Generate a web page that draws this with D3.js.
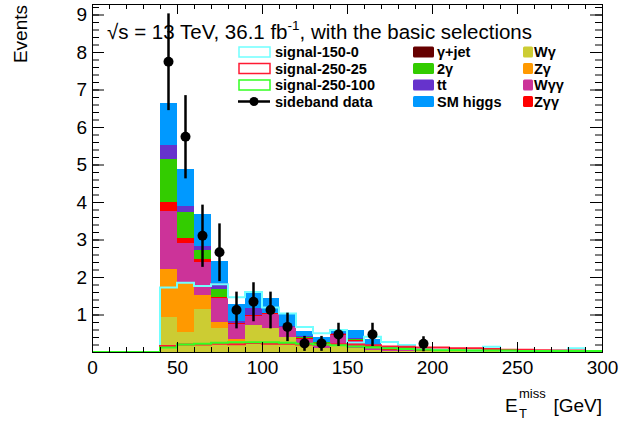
<!DOCTYPE html>
<html><head><meta charset="utf-8">
<script src="https://cdn.jsdelivr.net/npm/d3@7"></script>
<style>
body{margin:0;background:#fff}
svg{display:block}
text{font-family:'Liberation Sans',Arial,Helvetica,sans-serif}
</style></head>
<body><svg id="c" width="622" height="421"></svg>
<script>
// ---------- data ----------
const binLow = [40,50,60,70,80,90,100,110,120,130,140,150,160,170,180,190,200,210,220,230,240,250,260,270,280,290];
const gamJet  = [0,0,0,0,0,0,0,0,0,0,0,0,0,0,0,0,0,0,0,0,0,0,0,0,0,0];
const wGam    = [0.94,0.54,1.14,0.63,0.30,0.72,0.63,0.41,0.18,0.12,0.20,0.10,0.05,0.03,0.03,0.02,0.03,0.02,0.03,0.02,0.03,0.02,0.02,0.02,0.02,0.02];
const zGam    = [1.28,1.31,0.38,0.18,0.05,0,0,0,0.02,0,0,0,0,0,0,0,0,0,0,0,0,0,0,0,0,0];
const wGamGam = [1.55,1.06,0.89,0.64,0.40,0.25,0.38,0.25,0.15,0.10,0.25,0.20,0.05,0.03,0.06,0.02,0.02,0.02,0.01,0.01,0.01,0.01,0.01,0.01,0.01,0.01];
const zGamGam = [0.24,0.14,0.07,0.03,0.02,0.02,0.02,0.02,0.02,0.02,0.02,0.02,0.02,0.02,0.03,0.02,0.01,0.01,0.01,0.01,0.01,0.01,0.01,0.01,0.01,0.01];
const diGam   = [1.14,0.69,0.24,0.20,0,0,0,0,0.03,0.04,0.02,0.03,0.05,0.02,0.02,0.01,0,0,0,0,0,0,0,0,0,0];
const ttbar   = [0.37,0.16,0.11,0.17,0.05,0.18,0.02,0.02,0.02,0,0.02,0.02,0.03,0,0,0,0,0,0,0,0,0,0,0,0,0];
const smHiggs = [1.13,0.99,0.85,0.58,0.46,0.46,0.38,0.33,0.13,0.13,0.08,0.22,0.15,0.05,0.02,0.01,0.01,0.01,0.01,0.01,0,0,0,0,0,0];

const sigLow     = [0,10,20,30,40,50,60,70,80,90,100,110,120,130,140,150,160,170,180,190,200,210,220,230,240,250,260,270,280,290];
const sig150_0   = [0,0,0,0,1.72,1.85,1.76,1.81,1.46,1.60,1.19,1.03,0.67,0.50,0.59,0.25,0.41,0.27,0.19,0.10,0.06,0.06,0.04,0.14,0.04,0.03,0.03,0.04,0.10,0.02];
const sig250_25  = [0,0,0,0,0.16,0.20,0.20,0.22,0.21,0.24,0.22,0.22,0.20,0.20,0.21,0.20,0.18,0.15,0.14,0.12,0.12,0.10,0.10,0.08,0.06,0.06,0.05,0.04,0.04,0.03];
const sig250_100 = [0,0,0,0,0.12,0.20,0.22,0.25,0.26,0.26,0.26,0.25,0.22,0.20,0.18,0.15,0.12,0.10,0.08,0.06,0.05,0.05,0.04,0.04,0.04,0.03,0.03,0.03,0.03,0.03];

const dataX   = [45,55,65,75,85,95,105,115,125,135,145,165,195];
const dataY   = [7.74,5.74,3.10,2.66,1.12,1.34,1.12,0.67,0.23,0.23,0.47,0.47,0.22];
const dataErr = [1.29,1.11,0.83,0.77,0.49,0.52,0.49,0.38,0.20,0.20,0.31,0.31,0.20];

const xTickLabels = [0,50,100,150,200,250,300];
const yTickLabels = [1,2,3,4,5,6,7,8,9];

// ---------- setup ----------
const svg = d3.select('#c');
const X0=92, X1=602, Y0=4, Y1=352;
const x = d3.scaleLinear().domain([0,300]).range([X0,X1]);
const y = d3.scaleLinear().domain([0,9.28]).range([Y1,Y0]);
const binW = 10;

const bkg = [
  {key:'gamJet', label:'γ+jet', color:'#660000', vals:gamJet},
  {key:'wGam', label:'Wγ', color:'#cccc33', vals:wGam},
  {key:'zGam', label:'Zγ', color:'#ff9900', vals:zGam},
  {key:'wGamGam', label:'Wγγ', color:'#cc3399', vals:wGamGam},
  {key:'zGamGam', label:'Zγγ', color:'#ff0000', vals:zGamGam},
  {key:'diGam', label:'2γ', color:'#33cc00', vals:diGam},
  {key:'ttbar', label:'tt', color:'#6633cc', vals:ttbar},
  {key:'smHiggs', label:'SM higgs', color:'#0099ff', vals:smHiggs}
];
const table = binLow.map((b,i)=>{const r={bin:b}; bkg.forEach(s=>r[s.key]=s.vals[i]); return r;});
const stack = d3.stack().keys(bkg.map(s=>s.key))(table);

const plot = svg.append('g');
stack.forEach((layer,li)=>{
  plot.append('g').attr('fill',bkg[li].color).attr('shape-rendering','crispEdges')
    .selectAll('rect').data(layer.filter(d=>d[1]-d[0]>0)).join('rect')
    .attr('x',d=>x(d.data.bin))
    .attr('width',d=>x(d.data.bin+binW)-x(d.data.bin))
    .attr('y',d=>y(d[1]))
    .attr('height',d=>y(d[0])-y(d[1]));
});

// signals
const signals = [
  {label:'signal-150-0', color:'#70ffff', vals:sig150_0},
  {label:'signal-250-25', color:'#ff1a33', vals:sig250_25},
  {label:'signal-250-100', color:'#33ff22', vals:sig250_100}
];
const line = d3.line().x(d=>x(d[0])).y(d=>y(d[1])).curve(d3.curveStepAfter);
signals.forEach(s=>{
  const pts = sigLow.map((l,i)=>[l,s.vals[i]]);
  pts.push([300, s.vals[s.vals.length-1]]);
  plot.append('path').datum(pts).attr('d',line).attr('fill','none')
    .attr('stroke',s.color).attr('stroke-width',2);
});

// data
const dg = plot.append('g');
dataX.forEach((dx,i)=>{
  dg.append('line').attr('x1',x(dx)).attr('x2',x(dx))
    .attr('y1',y(dataY[i]+dataErr[i])).attr('y2',y(Math.max(0,dataY[i]-dataErr[i])))
    .attr('stroke','#000').attr('stroke-width',2.5);
  dg.append('circle').attr('cx',x(dx)).attr('cy',y(dataY[i])).attr('r',5).attr('fill','#000');
});

// ---------- axes ----------
const xMinor = d3.range(0,301,10);
const yMinor = d3.range(0,9.28,0.2);
function style(g){ g.select('.domain').remove(); g.selectAll('line').attr('stroke','#000'); g.selectAll('text').attr('font-size',19).attr('fill','#000').attr('font-family',"'Liberation Sans',Arial,sans-serif"); }
svg.append('g').attr('transform',`translate(0,${Y1})`).call(d3.axisBottom(x).tickValues(xTickLabels).tickSize(-10).tickPadding(9).tickFormat(d3.format('d'))).call(style);
svg.append('g').attr('transform',`translate(0,${Y1})`).call(d3.axisBottom(x).tickValues(xMinor).tickSize(-5).tickFormat('')).call(style);
svg.append('g').attr('transform',`translate(0,${Y0})`).call(d3.axisTop(x).tickValues(xTickLabels).tickSize(-10).tickFormat('')).call(style);
svg.append('g').attr('transform',`translate(0,${Y0})`).call(d3.axisTop(x).tickValues(xMinor).tickSize(-5).tickFormat('')).call(style);
svg.append('g').attr('transform',`translate(${X0},0)`).call(d3.axisLeft(y).tickValues(yTickLabels).tickSize(-12).tickPadding(5).tickFormat(d3.format('d'))).call(style);
svg.append('g').attr('transform',`translate(${X0},0)`).call(d3.axisLeft(y).tickValues(yMinor).tickSize(-7).tickFormat('')).call(style);
svg.append('g').attr('transform',`translate(${X1},0)`).call(d3.axisRight(y).tickValues(yTickLabels).tickSize(-12).tickFormat('')).call(style);
svg.append('g').attr('transform',`translate(${X1},0)`).call(d3.axisRight(y).tickValues(yMinor).tickSize(-7).tickFormat('')).call(style);
svg.append('rect').attr('x',X0).attr('y',Y0).attr('width',X1-X0).attr('height',Y1-Y0)
  .attr('fill','none').attr('stroke','#000').attr('stroke-width',1).attr('shape-rendering','crispEdges');

// axis titles
svg.append('text').attr('transform','translate(27,5) rotate(-90)').attr('text-anchor','end')
  .attr('font-size',19).text('Events');
const xt = svg.append('g');
xt.append('text').attr('x',505).attr('y',412).attr('font-size',19).text('E');
xt.append('text').attr('x',519).attr('y',418).attr('font-size',13).text('T');
xt.append('text').attr('x',519).attr('y',398).attr('font-size',13).text('miss');
xt.append('text').attr('x',602).attr('y',412).attr('font-size',19).attr('text-anchor','end').text('[GeV]');

// title text
const tt = svg.append('text').attr('x',107).attr('y',39).attr('font-size',20.5);
tt.append('tspan').text('√s = 13 TeV, 36.1 fb');
tt.append('tspan').attr('font-size',13.5).attr('dy',-9).text('-1');
tt.append('tspan').attr('dy',9).text(', with the basic selections');

// legend
const lg = svg.append('g').attr('font-size',14.5).attr('font-weight','bold');
const rowY = [52,68.5,85,101.5];
signals.forEach((s,i)=>{
  lg.append('rect').attr('x',239).attr('y',rowY[i]-5).attr('width',31).attr('height',10)
    .attr('fill','#fff').attr('stroke',s.color).attr('stroke-width',1.5);
  lg.append('text').attr('x',275).attr('y',rowY[i]+5).text(s.label);
});
lg.append('line').attr('x1',238).attr('x2',270).attr('y1',rowY[3]).attr('y2',rowY[3]).attr('stroke','#000').attr('stroke-width',2.5);
lg.append('circle').attr('cx',254).attr('cy',rowY[3]).attr('r',4.5).attr('fill','#000');
lg.append('text').attr('x',275).attr('y',rowY[3]+5).text('sideband data');

const col2 = ['gamJet','diGam','ttbar','smHiggs'];
const col3 = ['wGam','zGam','wGamGam','zGamGam'];
col2.forEach((k,i)=>{
  const s = bkg.find(b=>b.key===k);
  lg.append('rect').attr('x',413).attr('y',rowY[i]-5.5).attr('width',21).attr('height',11).attr('rx',1.5).attr('fill',s.color);
  lg.append('text').attr('x',437).attr('y',rowY[i]+5).text(s.label);
});
col3.forEach((k,i)=>{
  const s = bkg.find(b=>b.key===k);
  lg.append('rect').attr('x',523).attr('y',rowY[i]-5.5).attr('width',10).attr('height',11).attr('rx',1.5).attr('fill',s.color);
  lg.append('text').attr('x',534).attr('y',rowY[i]+5).text(s.label);
});
</script></body></html>
